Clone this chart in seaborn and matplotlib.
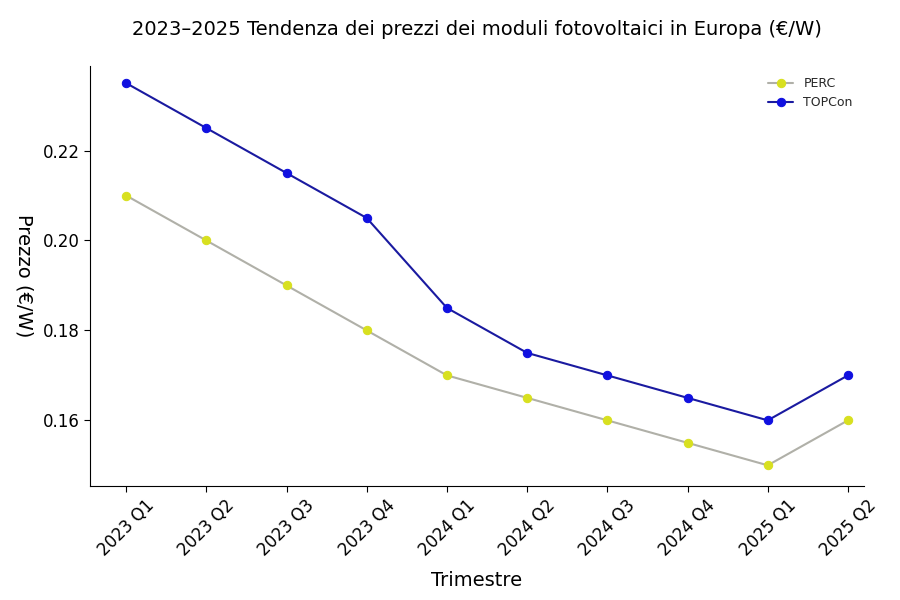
import matplotlib
matplotlib.use("Agg")
import matplotlib.pyplot as plt
import seaborn as sns
import pandas as pd

quarters = ["2023 Q1","2023 Q2","2023 Q3","2023 Q4","2024 Q1","2024 Q2","2024 Q3","2024 Q4","2025 Q1","2025 Q2"]
perc = [0.210,0.200,0.190,0.180,0.170,0.165,0.160,0.155,0.150,0.160]
topcon = [0.235,0.225,0.215,0.205,0.185,0.175,0.170,0.165,0.160,0.170]

df = pd.DataFrame({"Trimestre": quarters*2, "Prezzo": perc+topcon,
                   "Tipo": ["PERC"]*10 + ["TOPCon"]*10})

plt.rcParams["font.family"] = "Open Sans"
sns.set_style("white")
fig, ax = plt.subplots(figsize=(9, 6), dpi=100)
sns.lineplot(data=df[df.Tipo=="PERC"], x="Trimestre", y="Prezzo", ax=ax, color="#b0b0a8",
             marker="o", markersize=6, markerfacecolor="#d8e020", markeredgecolor="#d8e020",
             linewidth=1.5, label="PERC", sort=False)
sns.lineplot(data=df[df.Tipo=="TOPCon"], x="Trimestre", y="Prezzo", ax=ax, color="#1a1aa0",
             marker="o", markersize=6, markerfacecolor="#1010e0", markeredgecolor="#1010e0",
             linewidth=1.5, label="TOPCon", sort=False)
ax.set_ylim(0.1454, 0.2388)
ax.set_xlim(-0.45, 9.2)
ax.set_yticks([0.16,0.18,0.20,0.22])
ax.set_yticklabels(["0.16","0.18","0.20","0.22"], fontsize=12)
plt.setp(ax.get_xticklabels(), rotation=45, fontsize=12)
ax.tick_params(axis="both", length=4, direction="out", left=True, bottom=True, colors="black")
for s in ["top","right"]:
    ax.spines[s].set_visible(False)
for s in ["left","bottom"]:
    ax.spines[s].set_color("black")
ax.set_xlabel("Trimestre", fontsize=14, labelpad=8, color="black")
ax.set_ylabel("Prezzo (€/W)", fontsize=14, rotation=-90, labelpad=20, color="black")
ax.set_title("2023–2025 Tendenza dei prezzi dei moduli fotovoltaici in Europa (€/W)", fontsize=14, pad=22, color="black")
ax.legend(frameon=False, loc="upper right", fontsize=9)
fig.subplots_adjust(left=0.1, right=0.96, top=0.89, bottom=0.19)
fig.savefig("out.png")
